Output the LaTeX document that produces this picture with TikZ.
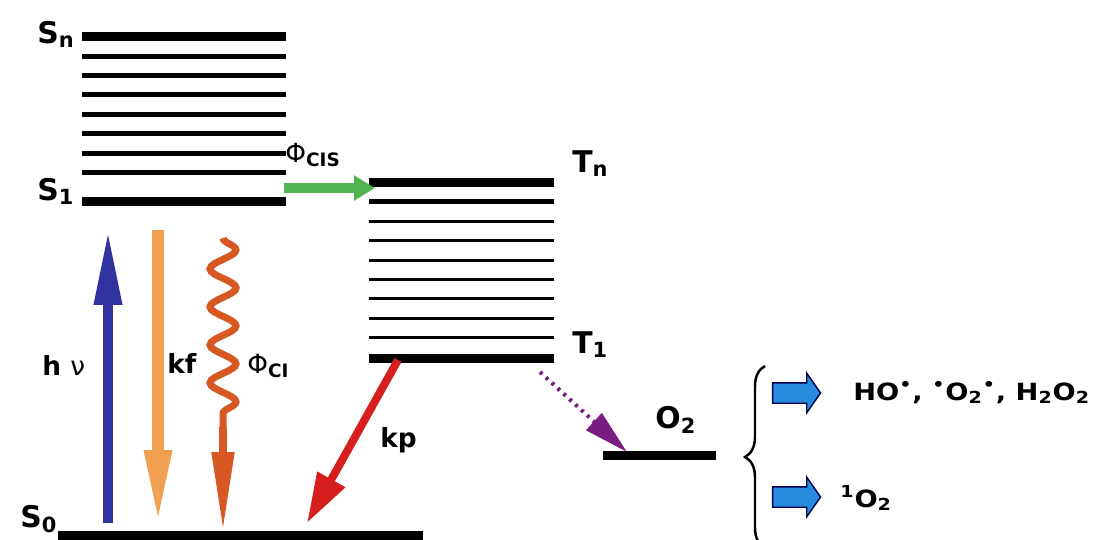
\documentclass[tikz,border=0pt]{standalone}
\usepackage{fontspec}
\setmainfont{DejaVu Sans}
\newfontfamily\prodfont{DejaVu Sans}[FakeStretch=1.15]
\usetikzlibrary{arrows.meta,decorations.pathmorphing,decorations.pathreplacing,shapes.arrows}

\definecolor{hvblue}{RGB}{50,50,160}
\definecolor{kforange}{RGB}{240,160,80}
\definecolor{clorange}{RGB}{215,88,35}
\definecolor{kpred}{RGB}{215,30,30}
\definecolor{cisgreen}{RGB}{80,180,80}
\definecolor{o2purple}{RGB}{120,30,130}
\definecolor{prodblue}{RGB}{40,140,220}

\begin{document}
\begin{tikzpicture}[
    x=0.02cm, y=-0.02cm,
    levelthick/.style={line width=0.18cm},
    levelmid/.style={line width=0.1cm},
    levelthin/.style={line width=0.06cm},
    lbl/.style={font=\fontsize{17}{20}\selectfont\bfseries, inner sep=0pt, anchor=base west},
    rate/.style={font=\fontsize{15}{18}\selectfont\bfseries, inner sep=0pt, anchor=base west},
    prod/.style={font=\prodfont\fontsize{13.5}{16}\selectfont\bfseries, inner sep=0pt, anchor=base west},
    block/.style={single arrow, draw=black!70!blue, fill=prodblue, line width=0.8pt,
        inner sep=0pt, inner ysep=0.19cm, minimum height=0.96cm,
        single arrow head extend=0.19cm, single arrow tip angle=110}
]
\useasboundingbox (0,0) rectangle (1101,539);

% Singoletti
\node[lbl] (Sn) at (37,43) {S\textsubscript{n}};
\node[lbl] (S1) at (37,200) {S\textsubscript{1}};
\draw[levelthick] (82,36) -- (286,36);
\draw[levelmid] (82,56) -- (286,56);
\draw[levelmid] (82,75) -- (286,75);
\draw[levelmid] (82,94) -- (286,94);
\draw[levelmid] (82,114) -- (286,114);
\draw[levelmid] (82,133) -- (286,133);
\draw[levelmid] (82,153) -- (286,153);
\draw[levelmid] (82,172) -- (286,172);
\draw[levelthick] (82,201) -- (286,201);

% Tripletti
\node[lbl] (Tn) at (572,172) {T\textsubscript{n}};
\node[lbl] (T1) at (572,353) {T\textsubscript{1}};
\draw[levelthick] (369,182) -- (554,182);
\draw[levelmid] (369,201) -- (554,201);
\draw[levelthin] (369,221) -- (554,221);
\draw[levelthin] (369,240) -- (554,240);
\draw[levelthin] (369,260) -- (554,260);
\draw[levelthin] (369,279) -- (554,279);
\draw[levelthin] (369,298) -- (554,298);
\draw[levelthin] (369,318) -- (554,318);
\draw[levelthin] (369,337) -- (554,337);
\draw[levelthick] (369,358) -- (554,358);

% Fondamentale e ossigeno
\node[lbl] (S0) at (20,527) {S\textsubscript{0}};
\draw[levelthick] (58,535) -- (423,535);
\node[lbl] (O2) at (655,428) {O\textsubscript{2}};
\draw[levelthick] (603,455) -- (716,455);

% Transizioni
\coordinate (hvA) at (108,523);
\coordinate (hvB) at (108,230);
\draw[hvblue, line width=0.2cm, -{Triangle[length=1.5cm, width=0.52cm]}] (hvA) -- (hvB);
\node[rate] (hv) at (42,375) {h {\mdseries ν}};

\coordinate (kfA) at (158,230);
\coordinate (kfB) at (158,525);
\draw[kforange, line width=0.24cm, -{Triangle[length=1.5cm, width=0.5cm]}] (kfA) -- (kfB);
\node[rate] (kf) at (167,373) {kf};

\coordinate (clA) at (223,238);
\coordinate (clB) at (223,427);
\coordinate (clC) at (223,532);
\draw[clorange, line width=0.14cm, decorate,
    decoration={snake, amplitude=0.26cm, segment length=0.76cm}] (clA) -- (clB);
\draw[clorange, line width=0.16cm, -{Triangle[length=1.6cm, width=0.42cm]}] (clB) -- (clC);
\node[rate] (phicl) at (247,373) {{\mdseries Φ}\textsubscript{CI}};

\coordinate (kpA) at (398,360);
\coordinate (kpB) at (307,523);
\draw[kpred, line width=0.16cm, -{Triangle[length=1.0cm, width=0.6cm]}] (kpA) -- (kpB);
\node[rate] (kp) at (380,447) {kp};

\coordinate (cisA) at (284,188);
\coordinate (cisB) at (375,188);
\draw[cisgreen, line width=0.2cm, -{Triangle[length=0.42cm, width=0.48cm]}] (cisA) -- (cisB);
\node[rate] (phicis) at (285,162) {{\mdseries Φ}\textsubscript{CIS}};

\coordinate (o2A) at (540,372);
\coordinate (o2B) at (627,452);
\draw[o2purple, line width=0.08cm, dash pattern=on 0.06cm off 0.1cm,
    -{Triangle[length=0.9cm, width=0.45cm]}] (o2A) -- (o2B);

% Prodotti
\coordinate (brB) at (765,548);
\coordinate (brT) at (765,366);
\draw[line width=1.4pt, decorate,
    decoration={brace, amplitude=0.4cm, aspect=0.5}] (brB) -- (brT);
\node[block] (ar1) at (793,393) {};
\node[block] (ar2) at (793,497) {};
\node[prod] (p1) at (853,400) {HO\textsuperscript{•}, \textsuperscript{•}O\textsubscript{2}\textsuperscript{•}, H\textsubscript{2}O\textsubscript{2}};
\node[prod] (p2) at (840,507) {\textsuperscript{1}O\textsubscript{2}};
\end{tikzpicture}
\end{document}
